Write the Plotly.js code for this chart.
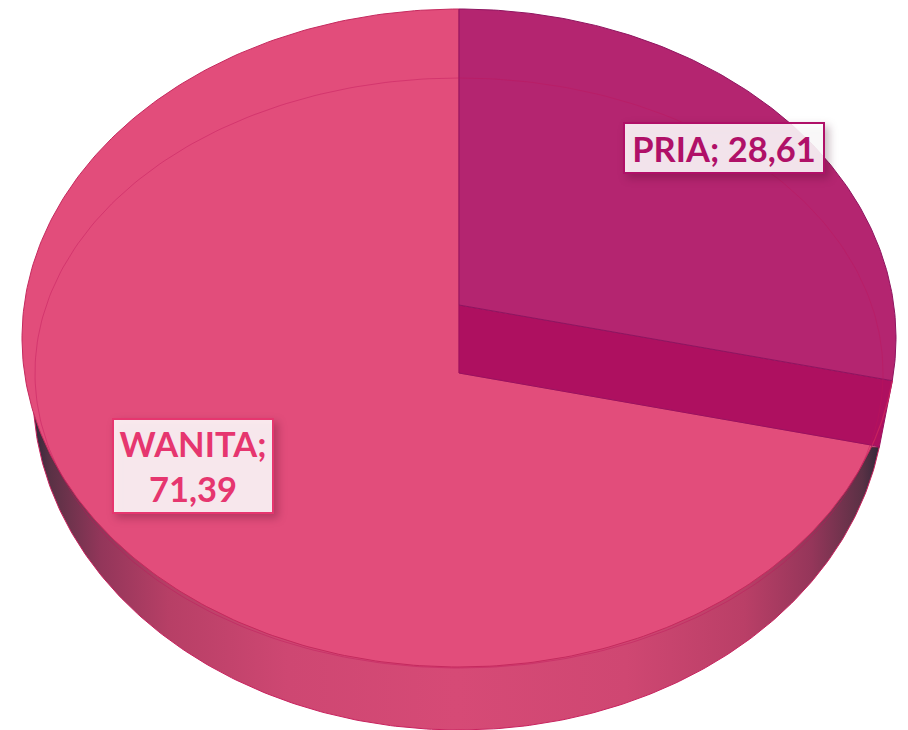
<!DOCTYPE html>
<html><head><meta charset="utf-8">
<script src="https://cdn.plot.ly/plotly-3.0.1.min.js"></script>
<style>html,body{margin:0;padding:0;background:#fff}#c{width:908px;height:730px}</style>
</head><body><div id="c"></div>
<script>
const categories = ["PRIA", "WANITA"];
const values = [28.61, 71.39];
const sliceColors = ["#B42570", "#E24D7B"];
const sideColor = "#AE1060";
const labelColors = ["#B01068", "#E6366F"];
const labelFills = ["rgba(255,255,255,0.88)", "rgba(255,255,255,0.88)"];

// projection of the tilted disc onto the page
const cx = 459;
const face = {cy: 338, rx: 437, ry: 329};
const rim = {cy: 373, rx: 424, ry: 295};
const wallBase = {cy: 392, rx: 426, ry: 338};
const apexLow = 373, apexHigh = 305, perspective = 1.0107;

const total = values.reduce((a, b) => a + b, 0);
const theta = 2 * Math.PI * values[0] / total * perspective;
const slope = -Math.cos(theta) * rim.ry / (rim.rx * Math.sin(theta));

function hit(y0) {
  const d = y0 - face.cy, A = 1 / (face.rx * face.rx) + slope * slope / (face.ry * face.ry);
  const B = 2 * d * slope / (face.ry * face.ry), C = d * d / (face.ry * face.ry) - 1;
  const x = (-B + Math.sqrt(B * B - 4 * A * C)) / (2 * A);
  return [cx + x, y0 + slope * x];
}
function angleOf(p, e) { return Math.atan2((p[0] - cx) / e.rx, -(p[1] - e.cy) / e.ry); }
function arc(e, a0, a1, n) {
  const pts = [];
  for (let i = 0; i <= n; i++) {
    const a = a0 + (a1 - a0) * i / n;
    pts.push([cx + e.rx * Math.sin(a), e.cy - e.ry * Math.cos(a)]);
  }
  return pts;
}
function poly(pts, fill, line, width, extra) {
  return Object.assign({
    type: "scatter", mode: "lines", x: pts.map(p => p[0]), y: pts.map(p => p[1]),
    fill: "toself", fillcolor: fill, line: {color: line, width: width, shape: "linear"},
    hoverinfo: "skip", showlegend: false
  }, extra || {});
}

const lowEnd = hit(apexLow), highEnd = hit(apexHigh);
const aLow = angleOf(lowEnd, face), aHigh = angleOf(highEnd, face);

// where the outer wall leaves the disc on each side
const tipAngle = Math.acos(-(447 - wallBase.cy) / wallBase.ry);
const leftAngle = 2 * Math.PI - Math.acos(-(412 - wallBase.cy) / wallBase.ry);
const wallPts = arc(wallBase, tipAngle, leftAngle, 240);
const tip = wallPts[0];

const traces = [
  poly(wallPts.concat([wallPts[0]]), "#D64A75", "#C8225E", 1, {
    name: "dinding",
    fillgradient: {type: "horizontal", colorscale: [
      [0, "#33283A"], [0.02, "#5A3145"], [0.08, "#93365A"], [0.16, "#B73F66"], [0.3, "#CE4772"],
      [0.5, "#D64A76"], [0.7, "#CF4772"], [0.84, "#BA3F67"], [0.92, "#95365A"], [0.98, "#5A3145"], [1, "#33283A"]
    ]}
  }),
  poly([[cx, apexLow]].concat(arc(face, aLow, 2 * Math.PI, 300)).concat([[cx, apexLow]]),
       sliceColors[1], "#C52A5E", 1, {name: categories[1]}),
  poly([[cx, apexHigh], highEnd, tip, lowEnd, [cx, apexLow], [cx, apexHigh]],
       sideColor, "#9A1060", 1, {name: categories[0] + " sisi"}),
  poly([[cx, apexHigh]].concat(arc(face, 0, aHigh, 150)).concat([[cx, apexHigh]]),
       sliceColors[0], "#8F1560", 1, {name: categories[0]}),
  {type: "scatter", mode: "lines", x: arc(rim, 0, 2 * Math.PI, 360).map(p => p[0]),
   y: arc(rim, 0, 2 * Math.PI, 360).map(p => p[1]), line: {color: "rgba(190,20,90,0.4)", width: 1},
   hoverinfo: "skip", showlegend: false},
  {type: "scatter", mode: "lines", x: arc(face, aHigh, aLow, 40).map(p => p[0]),
   y: arc(face, aHigh, aLow, 40).map(p => p[1]), line: {color: "#C8225E", width: 1.2},
   hoverinfo: "skip", showlegend: false}
];

const fmt = v => String(v).replace(".", ",");
const annotations = [
  {x: 723.5, y: 148, text: categories[0] + "; " + fmt(values[0]), width: 198, height: 48,
   font: {color: labelColors[0]}, bgcolor: labelFills[0], bordercolor: labelColors[0]},
  {x: 192.5, y: 465.5, text: categories[1] + ";<br>" + fmt(values[1]), width: 158, height: 92,
   font: {color: labelColors[1]}, bgcolor: labelFills[1], bordercolor: labelColors[1]}
].map(a => {
  a.xref = "x"; a.yref = "y"; a.showarrow = false; a.borderwidth = 2; a.borderpad = 0; a.align = "center";
  a.valign = "middle"; a.font = {family: "Lato, sans-serif", size: 34.5, weight: 700, color: a.font.color};
  return a;
});

const layout = {
  width: 908, height: 730, margin: {l: 0, r: 0, t: 0, b: 0},
  paper_bgcolor: "#fff", plot_bgcolor: "#fff", showlegend: false,
  xaxis: {range: [0, 908], visible: false, fixedrange: true},
  yaxis: {range: [730, 0], visible: false, fixedrange: true},
  annotations: annotations
};
Plotly.newPlot("c", traces, layout, {displayModeBar: false, staticPlot: true}).then(() => {
  document.querySelectorAll(".annotation rect.bg").forEach(r => {
    r.style.filter = "drop-shadow(4px 4px 4px rgba(60,0,30,0.3))";
  });
});
</script></body></html>
